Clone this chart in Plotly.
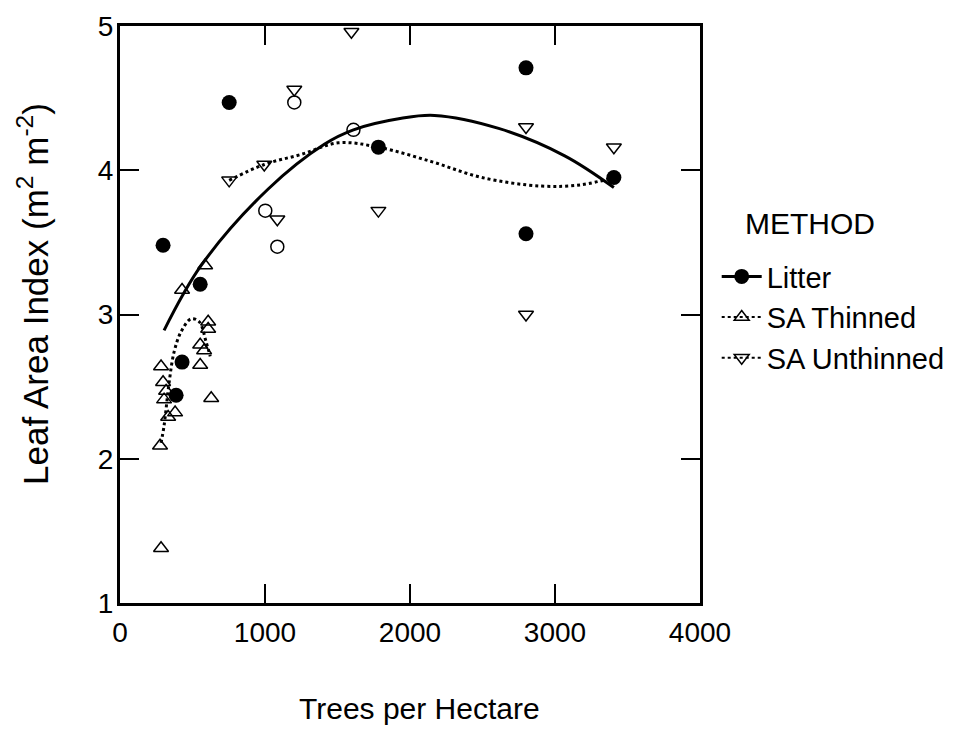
import plotly.graph_objects as go

# ---- data ----
litter_x = [297, 553, 753, 428, 387, 1782, 2800, 2800, 3406]
litter_y = [3.48, 3.21, 4.47, 2.67, 2.44, 4.16, 4.71, 3.56, 3.95]

open_x = [1202, 1610, 1002, 1085]
open_y = [4.47, 4.28, 3.72, 3.47]

thin_x = [587, 428, 608, 608, 553, 580, 553, 283, 297, 318, 304, 629, 380, 332, 276, 283]
thin_y = [3.34, 3.17, 2.95, 2.90, 2.79, 2.75, 2.65, 2.64, 2.53, 2.47, 2.41, 2.42, 2.32, 2.29, 2.09, 1.38]

unthin_x = [1596, 1202, 753, 995, 1085, 1782, 2800, 3406, 2800]
unthin_y = [4.96, 4.56, 3.93, 4.04, 3.66, 3.72, 4.30, 4.16, 3.00]

# fitted curves
litter_fit_x = [304, 560, 1022, 1409, 1610, 1941, 2169, 2611, 3067, 3406]
litter_fit_y = [2.89, 3.34, 3.87, 4.18, 4.28, 4.36, 4.38, 4.29, 4.10, 3.88]

thin_fit_x = [283, 304, 339, 373, 421, 490, 546, 594, 622]
thin_fit_y = [2.11, 2.23, 2.53, 2.74, 2.88, 2.97, 2.95, 2.81, 2.71]

unthin_fit_x = [753, 995, 1250, 1506, 1782, 2148, 2494, 2908, 3185, 3406]
unthin_fit_y = [3.93, 4.04, 4.11, 4.19, 4.16, 4.06, 3.95, 3.89, 3.90, 3.95]

x_ticks = [0, 1000, 2000, 3000, 4000]
y_ticks = [1, 2, 3, 4, 5]

FONT = "Liberation Sans, Arial, sans-serif"
fig = go.Figure()

# fit lines
fig.add_trace(go.Scatter(x=litter_fit_x, y=litter_fit_y, mode="lines", line_shape="spline",
                         line=dict(color="black", width=3), showlegend=False, hoverinfo="skip"))
fig.add_trace(go.Scatter(x=thin_fit_x, y=thin_fit_y, mode="lines", line_shape="spline",
                         line=dict(color="black", width=3, dash="dot"), showlegend=False, hoverinfo="skip"))
fig.add_trace(go.Scatter(x=unthin_fit_x, y=unthin_fit_y, mode="lines", line_shape="spline",
                         line=dict(color="black", width=3, dash="dot"), showlegend=False, hoverinfo="skip"))

# points
fig.add_trace(go.Scatter(x=open_x, y=open_y, mode="markers", showlegend=False,
                         marker=dict(symbol="circle-open", size=13, color="black", line=dict(width=1.5))))
fig.add_trace(go.Scatter(x=thin_x, y=thin_y, mode="markers", showlegend=False,
                         marker=dict(symbol="triangle-up-open", size=13, color="black", line=dict(width=1.5))))
fig.add_trace(go.Scatter(x=unthin_x, y=unthin_y, mode="markers", showlegend=False,
                         marker=dict(symbol="triangle-down-open", size=13, color="black", line=dict(width=1.5))))
fig.add_trace(go.Scatter(x=litter_x, y=litter_y, mode="markers", showlegend=False,
                         marker=dict(symbol="circle", size=15, color="black")))

# legend entries
fig.add_trace(go.Scatter(x=[None], y=[None], mode="lines+markers", name="Litter",
                         line=dict(color="black", width=3),
                         marker=dict(symbol="circle", size=15, color="black")))
fig.add_trace(go.Scatter(x=[None], y=[None], mode="lines+markers", name="SA Thinned",
                         line=dict(color="black", width=2, dash="dot"),
                         marker=dict(symbol="triangle-up-open", size=13, color="black", line=dict(width=1.5))))
fig.add_trace(go.Scatter(x=[None], y=[None], mode="lines+markers", name="SA Unthinned",
                         line=dict(color="black", width=2, dash="dot"),
                         marker=dict(symbol="triangle-down-open", size=13, color="black", line=dict(width=1.5))))

axis_common = dict(showgrid=False, zeroline=False, showline=True, linecolor="black", linewidth=3,
                   mirror="ticks", ticks="inside", ticklen=19, tickwidth=2, tickcolor="black",
                   automargin=False,
                   tickfont=dict(family=FONT, size=28, color="black"))

fig.update_layout(
    width=950, height=721,
    margin=dict(l=112, r=258, t=18, b=126, autoexpand=False),
    paper_bgcolor="white", plot_bgcolor="white",
    font=dict(family=FONT, color="black"),
    xaxis=dict(range=[0, 4000], tickvals=x_ticks, ticktext=[str(v) for v in x_ticks],
               ticklabelstandoff=2, **axis_common),
    yaxis=dict(range=[1, 5], tickvals=y_ticks, ticktext=[str(v) for v in y_ticks],
               ticklabelstandoff=-2, **axis_common),
    legend=dict(xref="container", x=0.746, xanchor="left", y=0.61, yanchor="top",
                font=dict(family=FONT, size=29), bgcolor="rgba(0,0,0,0)", itemwidth=40),
    annotations=[
        dict(text="METHOD", x=1.19, xref="paper", y=0.657, yref="paper",
             xanchor="center", yanchor="middle", showarrow=False,
             font=dict(family=FONT, size=30, color="black")),
        dict(text="Leaf Area Index (m<sup>2</sup> m<sup>-2</sup>)", textangle=-90,
             x=-0.149, xref="paper", y=0.535, yref="paper",
             xanchor="center", yanchor="middle", showarrow=False,
             font=dict(family=FONT, size=35, color="black")),
        dict(text="Trees per Hectare", x=0.516, xref="paper", y=-0.183, yref="paper",
             xanchor="center", yanchor="middle", showarrow=False,
             font=dict(family=FONT, size=30, color="black")),
    ],
)

fig.write_html("out.html")
